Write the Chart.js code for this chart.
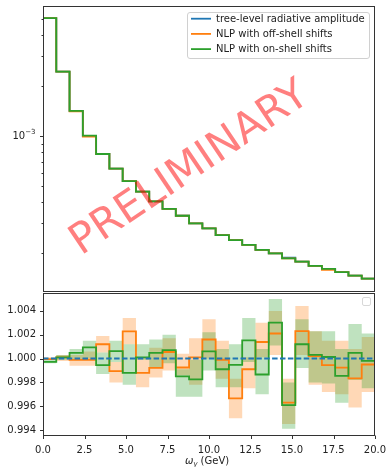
<!DOCTYPE html>
<html><head><meta charset="utf-8">
<script src="https://cdn.jsdelivr.net/npm/chart.js@4.4.1/dist/chart.umd.min.js"></script>
<style>
html,body{margin:0;padding:0;background:#fff;width:386px;height:467px;overflow:hidden}
#top{position:absolute;left:0;top:0;width:386px;height:293px}
#bot{position:absolute;left:0;top:293px;width:386px;height:174px}
canvas{display:block}
</style></head><body>
<div id="top"><canvas id="spec"></canvas></div>
<div id="bot"><canvas id="ratio"></canvas></div>
<script>
// photon energy bins (GeV)
const binEdges = [0.0,0.8,1.6,2.4,3.2,4.0,4.8,5.6,6.4,7.2,8.0,8.8,9.6,10.4,11.2,12.0,12.8,13.6,14.4,15.2,16.0,16.8,17.6,18.4,19.2,20.0];

// differential spectrum per bin
const treeLevel = [5.07e-3,2.43e-3,1.415e-3,1.0e-3,7.8e-4,6.37e-4,5.36e-4,4.65e-4,4.06e-4,3.66e-4,3.33e-4,3.0e-4,2.80e-4,2.55e-4,2.38e-4,2.23e-4,2.08e-4,1.98e-4,1.87e-4,1.77e-4,1.67e-4,1.60e-4,1.53e-4,1.46e-4,1.40e-4];
const offShell  = [5.07e-3,2.43e-3,1.405e-3,0.99e-3,7.8e-4,6.37e-4,5.36e-4,4.65e-4,4.06e-4,3.66e-4,3.33e-4,3.0e-4,2.80e-4,2.55e-4,2.38e-4,2.23e-4,2.08e-4,1.98e-4,1.85e-4,1.77e-4,1.67e-4,1.58e-4,1.53e-4,1.46e-4,1.40e-4];
const onShell   = [5.07e-3,2.43e-3,1.415e-3,1.005e-3,7.8e-4,6.37e-4,5.36e-4,4.65e-4,4.06e-4,3.66e-4,3.33e-4,3.0e-4,2.80e-4,2.55e-4,2.38e-4,2.23e-4,2.08e-4,1.98e-4,1.85e-4,1.77e-4,1.67e-4,1.60e-4,1.53e-4,1.46e-4,1.40e-4];

// ratios to the tree-level amplitude
const treeRatio = [1.0,1.0];
const offShellRatio = [0.99995,1.0001,0.99988,0.9999,1.0012,0.99894,1.00228,0.9988,0.99921,1.00055,0.99925,1.0001,1.0016,0.9999,0.99665,0.9991,1.00139,1.0021,0.9963,1.0023,1.0002,0.99944,0.99923,0.99833,0.9995];
const onShellRatio  = [0.99972,1.0001,1.00047,1.00094,0.99944,1.00062,0.9988,1.0001,1.00047,1.0007,0.9985,0.99825,1.0006,0.9991,0.99947,1.00153,0.99866,1.00302,0.99609,1.0012,1.0003,1.00013,0.99855,1.00047,0.9998];

// uncertainty bands on the ratios
const offShellLow  = [0.9999,0.9998,0.9994,0.9994,1.0005,0.9980,1.0012,0.9976,0.9984,0.9990,0.9986,0.9978,1.0000,0.9983,0.9950,0.9975,1.0001,1.0003,0.9945,1.0003,0.9978,0.9972,0.9970,0.9959,0.9972];
const offShellHigh = [1.0001,1.0003,1.0003,1.0006,1.0019,0.9997,1.0034,1.0001,1.0009,1.0017,1.0004,1.0017,1.0033,1.0015,0.9983,1.0001,1.0030,1.0040,0.9983,1.0044,1.0023,1.0015,1.0015,1.0008,1.0018];
const onShellLow   = [0.9996,0.9999,0.9999,1.0000,0.9987,0.9997,0.9978,0.9999,0.9993,0.9996,0.9968,0.9968,0.9990,0.9976,0.9976,0.9997,0.9970,1.0011,0.9941,0.9992,0.9980,0.9979,0.9963,0.9982,0.9975];
const onShellHigh  = [0.9999,1.0003,1.0008,1.0015,1.0005,1.0015,1.0012,1.0012,1.0016,1.0020,0.9991,0.9999,1.0022,1.0008,1.0012,1.0034,1.0008,1.0050,0.9980,1.0033,1.0023,1.0023,1.0008,1.0029,1.0021];

// axis ticks
const xTicks = [0,2.5,5,7.5,10,12.5,15,17.5,20];
const ratioTicks = [0.994,0.996,0.998,1.000,1.002,1.004];
const specMajorTicks = [1e-3];
const specMinorTicks = [2e-4,3e-4,4e-4,5e-4,6e-4,7e-4,8e-4,9e-4,2e-3,3e-3,4e-3,5e-3];

const labels = ['tree-level radiative amplitude','NLP with off-shell shifts','NLP with on-shell shifts'];
const C_BLUE = '#1f77b4', C_ORANGE = '#ff7f0e', C_GREEN = '#2ca02c';

Chart.defaults.font.family = 'DejaVu Sans';
Chart.defaults.font.size = 10;
Chart.defaults.color = '#222';

function steps(vals) {
  const pts = vals.map((v, i) => ({x: binEdges[i], y: v}));
  pts.push({x: binEdges[binEdges.length - 1], y: vals[vals.length - 1]});
  return pts;
}
function lineDs(label, vals, color, order, extra) {
  return Object.assign({label, data: steps(vals), borderColor: color, borderWidth: 1.8,
    pointRadius: 0, stepped: true, fill: false, tension: 0, order}, extra || {});
}

function frame(chart) {
  const a = chart.chartArea, ctx = chart.ctx;
  ctx.save();
  ctx.strokeStyle = '#333'; ctx.lineWidth = 1;
  ctx.strokeRect(Math.round(a.left) + 0.5, Math.round(a.top) + 0.5,
    Math.round(a.right - a.left) - 1, Math.round(a.bottom - a.top) - 1);
  ctx.restore();
}
function yTickMarks(chart, scale, vals, len) {
  const ctx = chart.ctx, x0 = Math.round(chart.chartArea.left) + 0.5;
  ctx.save(); ctx.strokeStyle = '#333'; ctx.lineWidth = 1;
  vals.forEach(v => {
    const y = Math.round(scale.getPixelForValue(v)) + 0.5;
    ctx.beginPath(); ctx.moveTo(x0, y); ctx.lineTo(x0 - len, y); ctx.stroke();
  });
  ctx.restore();
}

const specPlugin = {
  id: 'specDecor',
  afterDraw(chart) {
    const ctx = chart.ctx, a = chart.chartArea, ys = chart.scales.y;
    frame(chart);
    yTickMarks(chart, ys, specMajorTicks, 3.5);
    yTickMarks(chart, ys, specMinorTicks, 2);
    // 10^-3 label
    ctx.save();
    ctx.fillStyle = '#222';
    const y = ys.getPixelForValue(1e-3);
    ctx.font = '7px DejaVu Sans';
    const wExp = ctx.measureText('\u22123').width;
    ctx.font = '10px DejaVu Sans';
    const wBase = ctx.measureText('10').width;
    const right = 35.5;
    ctx.textBaseline = 'middle'; ctx.textAlign = 'left';
    ctx.fillText('10', right - wExp - wBase, y + 0.5);
    ctx.font = '7px DejaVu Sans';
    ctx.fillText('\u22123', right - wExp, y - 4);
    ctx.restore();

    // legend
    ctx.save();
    const lx = 187.5, ly = 12.5, lw = 182, lh = 46;
    ctx.fillStyle = 'rgba(255,255,255,0.8)';
    ctx.strokeStyle = '#d0d0d0'; ctx.lineWidth = 1;
    ctx.beginPath(); ctx.roundRect(lx, ly, lw, lh, 2.5); ctx.fill(); ctx.stroke();
    const cols = [C_BLUE, C_ORANGE, C_GREEN];
    ctx.font = '10px DejaVu Sans'; ctx.textBaseline = 'middle'; ctx.textAlign = 'left';
    chart.data.datasets.forEach((ds, i) => {
      const ry = 18.7 + 15.2 * i;
      ctx.strokeStyle = cols[i]; ctx.lineWidth = 1.8;
      ctx.beginPath(); ctx.moveTo(191, ry); ctx.lineTo(211, ry); ctx.stroke();
      ctx.fillStyle = '#222';
      ctx.fillText(ds.label, 216, ry + 0.5);
    });
    ctx.restore();

    // watermark
    ctx.save();
    ctx.translate(190, 169);
    ctx.rotate(-34 * Math.PI / 180);
    ctx.font = '42px DejaVu Sans';
    ctx.textAlign = 'center'; ctx.textBaseline = 'middle';
    ctx.fillStyle = 'rgba(255,0,0,0.5)';
    ctx.fillText('PRELIMINARY', 0, 0);
    ctx.restore();
  }
};

new Chart(document.getElementById('spec'), {
  type: 'line',
  data: {datasets: [
    lineDs(labels[0], treeLevel, C_BLUE, 3),
    lineDs(labels[1], offShell, C_ORANGE, 2),
    lineDs(labels[2], onShell, C_GREEN, 1)
  ]},
  options: {
    responsive: true, maintainAspectRatio: false, animation: false,
    layout: {padding: {top: 6, right: 11, bottom: 1, left: 0}},
    plugins: {legend: {display: false}, tooltip: {enabled: false}},
    scales: {
      x: {type: 'linear', min: 0, max: 20, display: false},
      y: {type: 'logarithmic', min: 1.164e-4, max: 6.0e-3,
          grid: {display: false}, border: {display: false},
          ticks: {display: false},
          afterFit(s) { s.width = 43; s.paddingTop = 0; s.paddingBottom = 0; }}
    }
  },
  plugins: [specPlugin]
});

const ratioPlugin = {
  id: 'ratioDecor',
  afterDraw(chart) {
    const ctx = chart.ctx, a = chart.chartArea;
    frame(chart);
    yTickMarks(chart, chart.scales.y, ratioTicks, 3.5);
    const xs = chart.scales.x;
    ctx.save(); ctx.strokeStyle = '#333'; ctx.lineWidth = 1;
    const yb = Math.round(a.bottom) - 0.5;
    xTicks.forEach(v => {
      const x = Math.round(xs.getPixelForValue(v)) + 0.5;
      ctx.beginPath(); ctx.moveTo(x, yb); ctx.lineTo(x, yb + 3.5); ctx.stroke();
    });
    // empty legend frame
    ctx.fillStyle = 'rgba(255,255,255,0.8)';
    ctx.strokeStyle = '#d8d8d8';
    ctx.beginPath(); ctx.roundRect(362.5, 4.5, 8, 8, 1.5); ctx.fill(); ctx.stroke();
    // axis title: omega_gamma (GeV)
    ctx.fillStyle = '#222'; ctx.textBaseline = 'alphabetic'; ctx.textAlign = 'left';
    ctx.font = 'oblique 10px DejaVu Sans';
    const w1 = ctx.measureText('\u03c9').width;
    ctx.font = 'oblique 7px DejaVu Sans';
    const w2 = ctx.measureText('\u03b3').width;
    ctx.font = '10px DejaVu Sans';
    const w3 = ctx.measureText(' (GeV)').width;
    const cx = (a.left + a.right) / 2 - 2, base = 171;
    let x = cx - (w1 + w2 + w3) / 2;
    ctx.font = 'oblique 10px DejaVu Sans'; ctx.fillText('\u03c9', x, base); x += w1;
    ctx.font = 'oblique 7px DejaVu Sans'; ctx.fillText('\u03b3', x, base + 2); x += w2;
    ctx.font = '10px DejaVu Sans'; ctx.fillText(' (GeV)', x, base);
    ctx.restore();
  }
};

const bandStyle = {borderColor: 'rgba(0,0,0,0)', borderWidth: 0};
new Chart(document.getElementById('ratio'), {
  type: 'line',
  data: {datasets: [
    lineDs('off low', offShellLow, 'rgba(0,0,0,0)', 6, bandStyle),
    lineDs('off high', offShellHigh, 'rgba(0,0,0,0)', 5, Object.assign({fill: 0, backgroundColor: 'rgba(255,127,14,0.3)'}, bandStyle)),
    lineDs('on low', onShellLow, 'rgba(0,0,0,0)', 4, bandStyle),
    lineDs('on high', onShellHigh, 'rgba(0,0,0,0)', 3, Object.assign({fill: 2, backgroundColor: 'rgba(44,160,44,0.3)'}, bandStyle)),
    lineDs(labels[1], offShellRatio, C_ORANGE, 2),
    lineDs(labels[2], onShellRatio, C_GREEN, 1),
    {label: labels[0], data: [{x: 0, y: treeRatio[0]}, {x: 20, y: treeRatio[1]}], borderColor: C_BLUE,
     borderWidth: 2, borderDash: [5.5, 2.4], pointRadius: 0, fill: false, order: 0}
  ]},
  options: {
    responsive: true, maintainAspectRatio: false, animation: false,
    layout: {padding: {top: 0, right: 11, bottom: 0, left: 0}},
    plugins: {legend: {display: false}, tooltip: {enabled: false}},
    scales: {
      x: {type: 'linear', min: 0, max: 20,
          grid: {display: false, drawTicks: false}, border: {display: false},
          afterBuildTicks(s) { s.ticks = xTicks.map(v => ({value: v})); },
          ticks: {padding: 8, maxRotation: 0, callback: v => v.toFixed(1)},
          afterFit(s) { s.height = 31; s.paddingLeft = 0; s.paddingRight = 0; }},
      y: {type: 'linear', min: 0.9935, max: 1.0055,
          grid: {display: false, drawTicks: false}, border: {display: false},
          afterBuildTicks(s) { s.ticks = ratioTicks.map(v => ({value: v})); },
          ticks: {padding: 7, callback: v => v.toFixed(3)},
          afterFit(s) { s.width = 43; s.paddingTop = 0; s.paddingBottom = 0; }}
    }
  },
  plugins: [ratioPlugin]
});
</script>
</body></html>
